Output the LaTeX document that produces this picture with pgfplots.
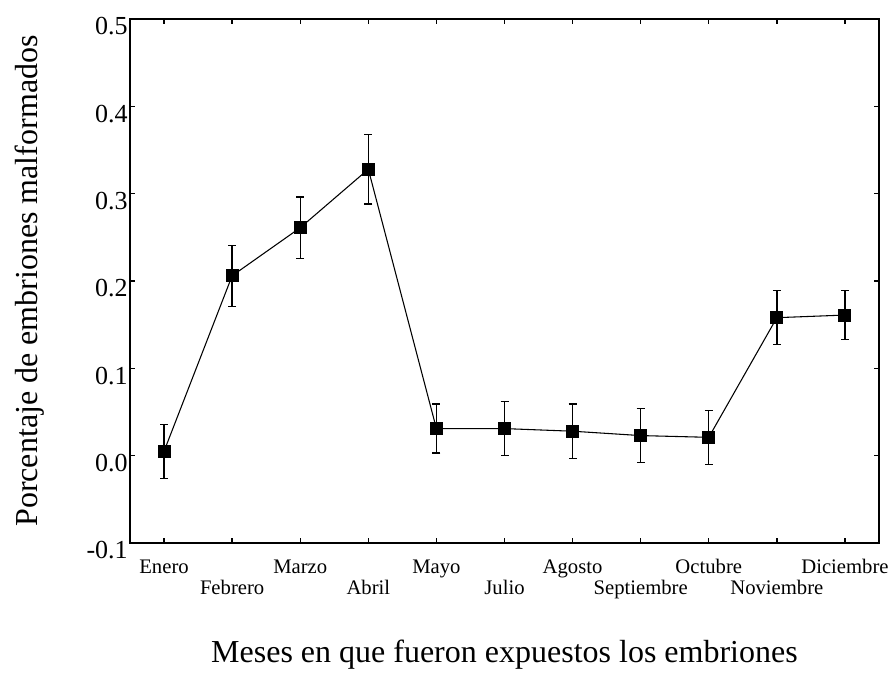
\documentclass[border=0pt]{standalone}
\usepackage{pgfplots}
\pgfplotsset{compat=1.18}
\usepackage{fontspec}
\setmainfont{Liberation Serif}

% month index, mean proportion of malformed embryos, error
\pgfplotstableread{
x  y      e
0  0.005  0.031
1  0.206  0.035
2  0.261  0.035
3  0.328  0.040
4  0.031  0.028
5  0.031  0.031
6  0.028  0.031
7  0.023  0.031
8  0.021  0.031
9  0.158  0.031
10 0.161  0.028
}\datos

\begin{document}
\begin{tikzpicture}
\begin{axis}[
  scale only axis,
  width=561.75pt, height=393pt,
  xmin=-0.5, xmax=10.5,
  ymin=-0.1, ymax=0.5,
  axis line style={line width=1.1pt},
  tick align=inside,
  tick pos=both,
  major tick length=4pt,
  tick style={line width=1pt, black},
  xtick={0,...,10},
  xticklabels={Enero,\raisebox{-15.75pt}{Febrero},Marzo,\raisebox{-15.75pt}{Abril},Mayo,\raisebox{-15.75pt}{Julio},Agosto,\raisebox{-15.75pt}{Septiembre},Octubre,\raisebox{-15.75pt}{Noviembre},Diciembre},
  xticklabel style={anchor=base, yshift=-22.5pt, font=\fontsize{15.5}{15.5}\selectfont},
  ytick={-0.1,0,0.1,0.2,0.3,0.4,0.5},
  yticklabels={-0.1,0.0,0.1,0.2,0.3,0.4,0.5},
  yticklabel style={anchor=east, inner xsep=1.5pt, yshift=-5.5pt, font=\fontsize{19.5}{19.5}\selectfont},
  /pgf/number format/assume math mode=true,
  xlabel={Meses en que fueron expuestos los embriones},
  ylabel={Porcentaje de embriones malformados},
  xlabel style={at={(axis description cs:0.5,0)}, anchor=base, yshift=-89.25pt, font=\fontsize{24}{24}\selectfont},
  ylabel style={at={(axis description cs:-0.1335,0.5)}, anchor=center, rotate=0, font=\fontsize{24}{24}\selectfont},
]
\addplot[
  black, line width=0.8pt,
  mark=square*, mark size=4.5pt,
  mark options={solid, fill=black},
  error bars/.cd,
    y dir=both, y explicit,
    error bar style={line width=1pt, black},
    error mark options={rotate=90, mark size=3pt, line width=1pt, black},
] table[x=x, y=y, y error=e] {\datos};
\end{axis}
\pgfresetboundingbox
\path[use as bounding box]
  ([shift={(-97.5pt,-99pt)}]current axis.south west)
  rectangle ([shift={(12.75pt,14.25pt)}]current axis.north east);
\end{tikzpicture}
\end{document}
